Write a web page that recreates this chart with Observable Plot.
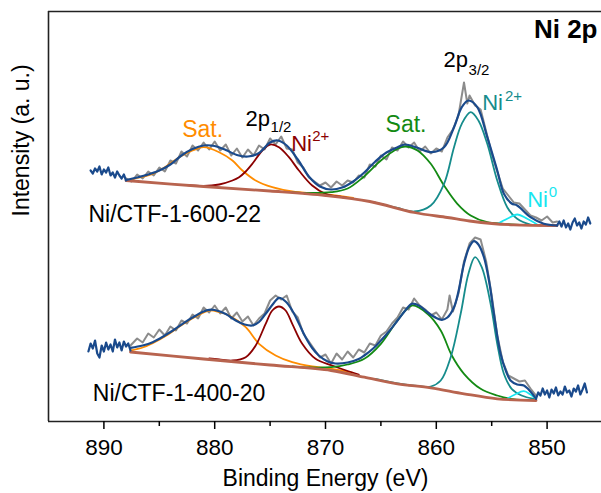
<!DOCTYPE html>
<html><head><meta charset="utf-8">
<script src="https://cdn.jsdelivr.net/npm/d3@7"></script>
<script src="https://cdn.jsdelivr.net/npm/@observablehq/plot@0.6"></script>
<style>body{margin:0;background:#fff}</style>
</head><body><div id="chart"></div>
<script>
// Binding energy ticks
const majorTicks = [890, 880, 870, 860, 850];
const minorTicks = [885, 875, 865, 855];

// ---------- Upper spectrum: Ni/CTF-1-600-22 (intensity in a.u., stacked offset included) ----------
const upperRawLeft = [[891.2,251],[891.0,248],[890.8,253],[890.6,250],[890.4,255],[890.2,247],[890.0,252],[889.8,249],[889.6,254],[889.4,246],[889.2,249],[889.0,244],[888.8,250],[888.6,246],[888.4,243],[888.2,247],[888.0,241]];
const upperRawRight = [[849.1,196],[848.9,200],[848.7,195],[848.5,201],[848.3,194],[848.1,198],[847.9,192],[847.7,199],[847.5,203],[847.3,196],[847.1,199],[846.9,193],[846.7,200],[846.5,197],[846.3,204],[846.1,198]];
const upperRaw = [[888.0,243],[887.5,240],[887.0,247],[886.5,243],[886.0,250],[885.5,246],[885.0,254],[884.5,250],[884.0,261],[883.5,258],[883.0,270],[882.5,265],[882.0,276],[881.5,271],[881.0,279],[880.5,272],[880.0,280],[879.5,271],[879.0,277],[878.5,266],[878.0,273],[877.5,264],[877.0,272],[876.5,266],[876.0,276],[875.5,272],[875.0,283],[874.5,277],[874.0,285],[873.5,273],[873.0,272],[872.5,259],[872.0,254],[871.5,244],[871.0,240],[870.5,236],[870.0,239],[869.5,234],[869.0,240],[868.5,236],[868.0,241],[867.5,239],[867.0,246],[866.5,244],[866.0,257],[865.5,255],[865.0,266],[864.5,262],[864.0,274],[863.5,271],[863.0,280],[862.5,274],[862.0,279],[861.5,270],[861.0,275],[860.5,268],[860.0,273],[859.5,270],[859.0,284],[858.5,292],[858.0,306],[857.5,339],[857.2,318],[857.0,326],[856.5,316],[856.0,312],[855.5,290],[855.0,268],[854.5,250],[854.0,233],[853.5,226],[853.0,219],[852.5,218],[852.0,212],[851.5,206],[851.0,204],[850.5,201],[850.0,205],[849.5,199],[849.1,200]];
const upperEnvelope = [[888.0,241.5],[887.0,244],[886.0,247],[885.0,251],[884.0,257],[883.0,266],[882.0,272.5],[881.0,276],[880.0,275.5],[879.0,271.5],[878.0,266.5],[877.0,265],[876.0,268.5],[875.0,279],[874.3,281],[873.5,276],[872.5,262],[871.5,245],[870.5,235],[869.5,232],[868.5,234],[867.5,240],[866.5,249],[865.5,260],[864.5,269],[863.5,274.3],[862.8,277],[861.7,273.7],[860.4,269.3],[859.3,274.3],[858.4,294.3],[857.7,314.3],[857.1,321],[856.3,314.3],[855.4,284.3],[854.5,251],[853.9,227.7],[853.2,218],[852.7,216],[851.5,204.3],[850.3,197.7],[849.1,196]];
const upperBaseline = [[888.0,241],[881.0,235],[875.0,230.5],[870.0,226],[866.0,220],[862.0,209],[859.0,204],[857.0,200.5],[855.0,198],[853.0,196.7],[849.1,196]];
const upperSat1 = [[888.0,241],[887.0,243.5],[885.6,247.7],[884.4,255],[883.2,264.3],[882.0,271],[881.0,274.3],[879.6,269.3],[878.4,261],[877.5,251],[876.3,241],[874.8,234.3],[873.0,230],[870.6,227.7],[869.1,226],[867.5,223.5]];
const upperNi2p12 = [[882.5,236.5],[881.0,235.5],[879.6,237],[878.4,241],[877.8,244.3],[877.2,250],[876.6,257.7],[875.7,271],[875.0,277],[874.2,274.3],[873.3,264.3],[872.4,251],[871.2,236],[870.0,227.7],[869.1,225.5],[868.0,223.5]];
const upperSat2 = [[873.0,229],[871.5,228.5],[869.5,229.3],[868.0,233],[866.6,244.3],[865.0,261],[863.5,272.7],[862.8,275],[861.7,271],[860.5,257.7],[859.3,236],[858.1,217.7],[856.9,206],[855.4,199.3],[853.9,197.7],[852.0,196.5]];
const upperNi2p32 = [[865.5,219],[863.5,213.5],[862.0,210],[860.5,216],[859.3,237.7],[858.4,274.3],[857.7,297.7],[856.9,309.3],[856.2,301],[855.4,277.7],[854.5,241],[853.6,214.3],[852.7,202.7],[851.5,197],[850.5,196.2]];
const upperNi0 = [[854.5,197.5],[853.6,202.7],[852.7,207],[851.8,202.7],[850.9,197]];

// ---------- Lower spectrum: Ni/CTF-1-400-20 ----------
const lowerRawLeft = [[891.4,70],[891.2,78],[891.0,73],[890.8,81],[890.6,68],[890.4,64],[890.2,76],[890.0,70],[889.8,79],[889.6,72],[889.4,77],[889.2,70],[889.0,82],[888.8,74],[888.6,79],[888.4,71],[888.2,80],[888.0,75],[887.8,78],[887.6,71]];
const lowerRawRight = [[851.0,23],[850.8,29],[850.6,26],[850.4,33],[850.2,27],[850.0,31],[849.8,24],[849.6,32],[849.4,28],[849.2,34],[849.0,26],[848.8,30],[848.6,27],[848.4,35],[848.2,29],[848.0,31],[847.8,25],[847.6,33],[847.4,30],[847.2,36],[847.0,27],[846.8,32],[846.6,38],[846.4,29]];
const lowerRaw = [[887.6,76],[887.0,83],[886.5,79],[886.0,88],[885.5,84],[885.0,92],[884.5,86],[884.0,95],[883.5,91],[883.0,101],[882.5,98],[882.0,107],[881.5,103],[881.0,114],[880.5,109],[880.0,116],[879.5,108],[879.0,114],[878.5,103],[878.0,109],[877.5,100],[877.0,105],[876.5,96],[876.0,103],[875.5,108],[875.0,121],[874.5,126],[874.0,122],[873.5,126],[873.0,110],[872.5,104],[872.0,88],[871.5,80],[871.0,72],[870.5,64],[870.0,67],[869.5,58],[869.0,68],[868.5,62],[868.0,70],[867.5,64],[867.0,72],[866.5,69],[866.0,78],[865.5,76],[865.0,86],[864.5,90],[864.0,98],[863.5,104],[863.0,114],[862.5,112],[862.0,123],[861.5,116],[861.0,112],[860.5,106],[860.0,109],[859.5,102],[859.0,112],[858.8,126],[858.5,110],[858.0,128],[857.5,160],[857.0,178],[856.5,184],[856.0,182],[855.5,160],[855.0,126],[854.5,86],[854.0,60],[853.5,46],[853.0,43],[852.5,40],[852.0,41],[851.5,33],[851.0,26]];
const lowerEnvelope = [[887.6,73.7],[886.5,76],[885.6,79.3],[884.5,86],[883.5,93],[882.9,97.7],[882.0,104],[881.0,110],[880.5,111.7],[880.0,111.5],[879.0,107.5],[878.1,101],[877.3,97],[876.6,96],[876.0,99.5],[875.4,107.7],[874.7,118],[874.2,123.7],[873.6,120],[873.0,111],[872.4,98],[871.8,84.3],[871.2,73.5],[870.6,66],[869.8,60],[869.1,58],[868.0,59],[867.0,62.5],[866.5,66],[865.7,73],[865.0,81],[864.2,91],[863.5,101],[862.8,111],[862.2,117.7],[861.5,115.5],[860.8,109.3],[860.0,103.5],[859.5,101.7],[859.0,104],[858.4,114.3],[858.0,130],[857.5,157.7],[857.0,175],[856.6,180.3],[856.2,177],[855.7,164.3],[855.2,138],[854.8,107.7],[854.2,67.7],[853.7,50],[853.3,41],[852.7,37],[852.1,36],[851.5,30],[851.0,22.7]];
const lowerBaseline = [[887.6,69.5],[881.0,62.5],[875.0,56.5],[869.5,51],[866.5,44.3],[863.5,37.7],[860.5,33.7],[857.5,27.7],[854.5,22.7],[851.0,21]];
const lowerSat1 = [[887.6,71],[886.5,74],[885.6,78.3],[884.2,87],[882.9,97],[881.7,105],[880.5,111],[879.6,109.5],[878.7,106],[877.2,94.3],[876.0,77.7],[874.5,66],[873.0,59.3],[871.2,55],[869.4,52.7],[867.5,48.5]];
const lowerNi2p12 = [[880.5,63],[879.6,62],[878.4,61],[877.2,64.3],[876.3,76],[875.4,97.7],[874.8,111],[874.2,115],[873.6,111],[873.0,97.7],[872.1,77.7],[870.9,62.7],[869.4,56],[868.0,50.5],[867.0,47]];
const lowerSat2 = [[873.0,55],[871.5,54],[869.5,54.3],[868.0,57],[866.5,62.7],[865.0,77.7],[863.5,101],[862.2,116],[860.8,107.7],[859.6,91],[858.6,66],[857.5,47.7],[856.0,32.7],[854.5,26],[853.3,22.7],[852.0,21.5]];
const lowerNi2p32 = [[865.5,42.5],[863.5,38],[861.5,35.3],[860.5,35],[859.6,41],[858.7,64.3],[857.8,107.7],[857.1,147.7],[856.5,164.3],[855.9,154.3],[855.1,117.7],[854.5,77.7],[853.9,47.7],[853.2,32.7],[852.3,26],[851.2,22.7]];
const lowerNi0 = [[853.6,22.7],[852.9,27],[852.1,30.3],[851.5,27],[851.0,22.7]];

// ---------- annotation texts ----------
const labelTexts = ["Sat.", "2p", "1/2", "Ni", "2+", "Sat.", "2p", "3/2", "Ni", "2+", "Ni", "0", "Ni/CTF-1-600-22", "Ni/CTF-1-400-20", "Ni 2p"];
const xTitle = "Binding Energy (eV)";
const yTitle = "Intensity (a. u.)";

// ---------- styling / placement ----------
const C = {raw:"#8c8c8c", env:"#1a4a8c", orange:"#ff8c00", red:"#8b0000", green:"#138a13", teal:"#168c8c", cyan:"#18e6f0", base:"#b8644f"};
const labelPlace = [
  {e:882.93, v:285, fill:C.orange, size:23},
  {e:877.22, v:296, fill:"#000", size:22},
  {e:874.96, v:290, fill:"#000", size:15},
  {e:873.1, v:271, fill:C.red, size:22},
  {e:871.2, v:281, fill:C.red, size:15},
  {e:864.58, v:289.3, fill:C.green, size:23},
  {e:859.35, v:354.3, fill:"#000", size:22},
  {e:857.09, v:347, fill:"#000", size:15},
  {e:855.86, v:311.7, fill:C.teal, size:22},
  {e:853.8, v:321, fill:C.teal, size:15},
  {e:851.8, v:214.3, fill:C.cyan, size:22},
  {e:849.85, v:225, fill:C.cyan, size:15},
  {e:891.39, v:199.3, fill:"#000", size:23},
  {e:891.0, v:21, fill:"#000", size:23},
  {e:845.45, v:384, fill:"#000", size:26, weight:"bold", anchor:"end"}
];

const rows = a => a.map(([e, v]) => ({e, v}));
const line = (a, stroke, w, curve = "catmull-rom") =>
  Plot.line(rows(a), {x: "e", y: "v", stroke, strokeWidth: w, curve});

const marks = [
  // frame
  Plot.ruleY([410], {stroke: "#222", strokeWidth: 1.6}),
  Plot.ruleX([895], {stroke: "#222", strokeWidth: 1.6}),
  Plot.ruleY([0], {stroke: "#222", strokeWidth: 1.6}),
  Plot.axisX({ticks: majorTicks, tickSize: 8, tickPadding: 9.5, fontSize: 22.5, label: null, strokeWidth: 1.5, fill: "#000"}),
  Plot.axisX({ticks: minorTicks, tickSize: 5, tickFormat: () => "", label: null, strokeWidth: 1.5}),
  // raw data
  line(upperRaw, C.raw, 2, "linear"),
  line(lowerRaw, C.raw, 2, "linear"),
  // components
  line(upperSat1, C.orange, 1.8), line(upperNi2p12, C.red, 1.8), line(upperSat2, C.green, 1.8), line(upperNi2p32, C.teal, 1.8), line(upperNi0, C.cyan, 1.8),
  line(lowerSat1, C.orange, 1.8), line(lowerNi2p12, C.red, 1.8), line(lowerSat2, C.green, 1.8), line(lowerNi2p32, C.teal, 1.8), line(lowerNi0, C.cyan, 1.8),
  // baselines (on top of component tails)
  line(upperBaseline, C.base, 2.8),
  line(lowerBaseline, C.base, 2.8),
  // envelopes and raw ends
  line(upperEnvelope, C.env, 2.2),
  line(lowerEnvelope, C.env, 2.2),
  line(upperRawLeft, C.env, 2.2, "linear"), line(upperRawRight, C.env, 2.2, "linear"),
  line(lowerRawLeft, C.env, 2.2, "linear"), line(lowerRawRight, C.env, 2.2, "linear"),
  // axis titles
  Plot.text([xTitle], {frameAnchor: "bottom", dy: 64, lineAnchor: "bottom", fontSize: 23, fill: "#000", text: d => d}),
  Plot.text([yTitle], {frameAnchor: "left", rotate: -90, dx: -20, lineAnchor: "bottom", fontSize: 23, fill: "#000", text: d => d})
];
labelTexts.forEach((t, i) => {
  const p = labelPlace[i];
  marks.push(Plot.text([{e: p.e, v: p.v, t}], {x: "e", y: "v", text: "t", fill: p.fill, fontSize: p.size,
    fontWeight: p.weight || "normal", textAnchor: p.anchor || "start", lineAnchor: "bottom"}));
});

const chart = Plot.plot({
  width: 601, height: 493,
  marginLeft: 48, marginRight: -1, marginTop: 11, marginBottom: 72,
  style: {fontFamily: "'Liberation Sans', Arial, sans-serif", background: "#fff", color: "#000"},
  x: {domain: [895, 845]},
  y: {domain: [0, 410], axis: null},
  marks
});
document.getElementById("chart").append(chart);
</script>
</body></html>
